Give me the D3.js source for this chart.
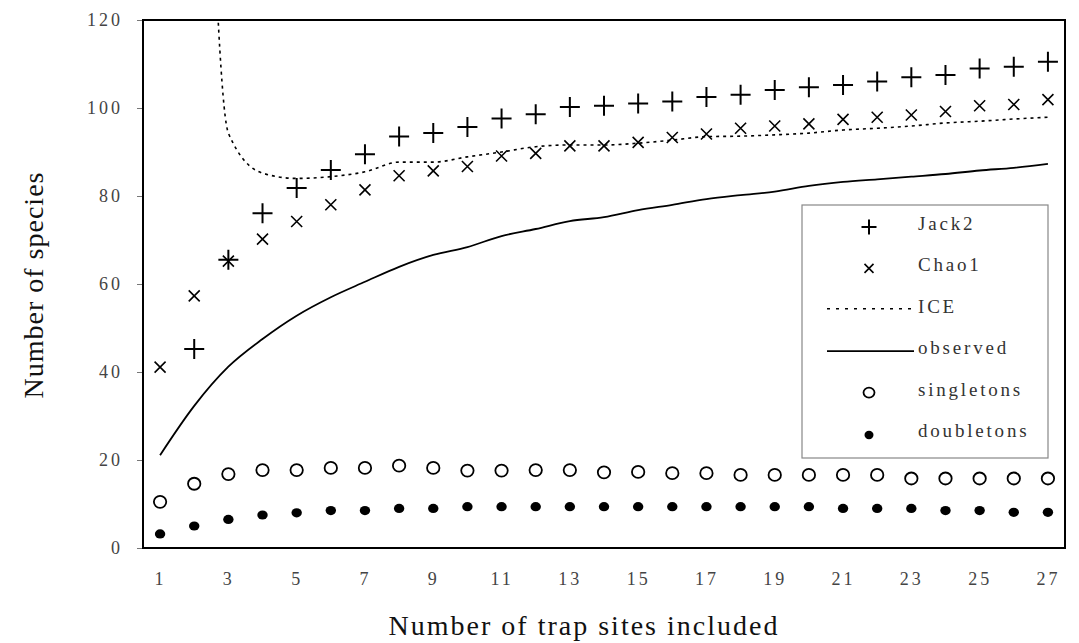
<!DOCTYPE html>
<html>
<head>
<meta charset="utf-8">
<script src="https://cdn.jsdelivr.net/npm/d3@7"></script>
<style>
  body { margin: 0; background: #fff; }
  text { font-family: "Liberation Serif", "Times New Roman", serif; }
</style>
</head>
<body>
<div id="chart"></div>
<script>
// data
const sites = d3.range(1, 28);
const jack2 = [null, 45.2, 65.5, 76.1, 81.8, 85.9, 89.5, 93.5, 94.3, 95.7, 97.6, 98.6, 100.2, 100.5,
  101.0, 101.5, 102.5, 103.0, 104.1, 104.7, 105.2, 106.0, 107.0, 107.5, 109.0, 109.4, 110.5];
const chao1 = [41.1, 57.3, 65.2, 70.2, 74.2, 78.0, 81.4, 84.6, 85.7, 86.7, 89.1, 89.7, 91.4, 91.4,
  92.2, 93.3, 94.1, 95.4, 95.9, 96.4, 97.4, 97.9, 98.4, 99.2, 100.5, 100.8, 101.9];
const ice = [null, 280, 94.3, 85.2, 84.0, 84.4, 85.5, 87.7, 87.7, 88.9, 90.0, 91.2, 91.6, 91.6,
  92.0, 92.7, 93.5, 93.6, 93.9, 94.3, 95.0, 95.4, 95.9, 96.6, 97.0, 97.5, 97.9];
const observed = [21.1, 32.3, 41.2, 47.5, 52.8, 57.0, 60.5, 63.9, 66.6, 68.4, 70.9, 72.5, 74.3, 75.2,
  76.8, 78.0, 79.3, 80.2, 81.0, 82.3, 83.2, 83.8, 84.4, 85.0, 85.8, 86.4, 87.3];
const singletons = [10.5, 14.6, 16.8, 17.7, 17.7, 18.2, 18.2, 18.7, 18.2, 17.6, 17.6, 17.7, 17.7, 17.2,
  17.3, 17.0, 17.0, 16.6, 16.6, 16.6, 16.6, 16.6, 15.8, 15.8, 15.8, 15.8, 15.8];
const doubletons = [3.2, 5.0, 6.5, 7.5, 8.0, 8.5, 8.5, 9.0, 9.0, 9.4, 9.4, 9.4, 9.4, 9.4,
  9.4, 9.4, 9.4, 9.4, 9.4, 9.4, 9.0, 9.0, 9.0, 8.5, 8.5, 8.1, 8.1];
const xTicks = d3.range(1, 28, 2);
const yTicks = [0, 20, 40, 60, 80, 100, 120];
const legendItems = ['Jack2', 'Chao1', 'ICE', 'observed', 'singletons', 'doubletons'];

// config
const width = 1079, height = 643;
const margin = { left: 143, top: 20, right: 14, bottom: 95 };
const innerW = width - margin.left - margin.right;
const innerH = height - margin.top - margin.bottom;

const x = d3.scaleLinear().domain([0.5, 27.5]).range([margin.left, margin.left + innerW]);
const y = d3.scaleLinear().domain([0, 120]).range([margin.top + innerH, margin.top]);

const svg = d3.select('#chart')
  .append('svg')
  .attr('width', width)
  .attr('height', height);

svg.append('clipPath')
  .attr('id', 'plot-clip')
  .append('rect')
  .attr('x', margin.left)
  .attr('y', margin.top)
  .attr('width', innerW)
  .attr('height', innerH);

const pairs = (arr) => sites.map((s, i) => [s, arr[i]]).filter(d => d[1] != null);
const smooth = d3.line().x(d => x(d[0])).y(d => y(d[1])).curve(d3.curveMonotoneX);

// marker helpers
const plusPath = (cx, cy, r) => `M${cx - r},${cy}H${cx + r}M${cx},${cy - r}V${cy + r}`;
const crossPath = (cx, cy, r) => `M${cx - r},${cy - r}L${cx + r},${cy + r}M${cx - r},${cy + r}L${cx + r},${cy - r}`;

// y axis
const yAxis = svg.append('g')
  .attr('transform', `translate(${margin.left},0)`)
  .call(d3.axisLeft(y).tickValues(yTicks).tickSize(6).tickPadding(14));
yAxis.select('.domain').remove();
yAxis.selectAll('line').attr('stroke', '#777');
yAxis.selectAll('text')
  .attr('fill', '#444')
  .style('font-size', '18px')
  .style('letter-spacing', '3px');

// x axis
const xAxis = svg.append('g')
  .attr('transform', `translate(0,${margin.top + innerH})`)
  .call(d3.axisBottom(x).tickValues(xTicks).tickSize(0).tickPadding(24));
xAxis.select('.domain').remove();
xAxis.selectAll('text')
  .attr('fill', '#444')
  .style('font-size', '18px')
  .style('letter-spacing', '3px');

// frame
svg.append('rect')
  .attr('x', margin.left)
  .attr('y', margin.top)
  .attr('width', innerW)
  .attr('height', innerH)
  .attr('fill', 'none')
  .attr('stroke', '#000')
  .attr('stroke-width', 2);

const plot = svg.append('g').attr('clip-path', 'url(#plot-clip)');

// ICE
plot.append('path')
  .datum(pairs(ice))
  .attr('fill', 'none')
  .attr('stroke', '#000')
  .attr('stroke-width', 1.6)
  .attr('stroke-dasharray', '3,4')
  .attr('d', smooth);

// observed
plot.append('path')
  .datum(pairs(observed))
  .attr('fill', 'none')
  .attr('stroke', '#000')
  .attr('stroke-width', 1.8)
  .attr('d', smooth);

// Jack2
plot.append('g').selectAll('path')
  .data(pairs(jack2))
  .enter()
  .append('path')
  .attr('d', d => plusPath(x(d[0]), y(d[1]), 10))
  .attr('stroke', '#000')
  .attr('stroke-width', 2);

// Chao1
plot.append('g').selectAll('path')
  .data(pairs(chao1))
  .enter()
  .append('path')
  .attr('d', d => crossPath(x(d[0]), y(d[1]), 5.5))
  .attr('stroke', '#000')
  .attr('stroke-width', 1.6);

// singletons
plot.append('g').selectAll('ellipse')
  .data(pairs(singletons))
  .enter()
  .append('ellipse')
  .attr('cx', d => x(d[0]))
  .attr('cy', d => y(d[1]))
  .attr('rx', 6.2)
  .attr('ry', 6)
  .attr('fill', 'none')
  .attr('stroke', '#000')
  .attr('stroke-width', 1.8);

// doubletons
plot.append('g').selectAll('ellipse')
  .data(pairs(doubletons))
  .enter()
  .append('ellipse')
  .attr('cx', d => x(d[0]))
  .attr('cy', d => y(d[1]))
  .attr('rx', 5.2)
  .attr('ry', 4.6)
  .attr('fill', '#000');

// legend
const lg = { x: 802, y: 205, w: 246, h: 253, rowY: 230, step: 41.4, markX: 869, textX: 918 };
svg.append('rect')
  .attr('x', lg.x)
  .attr('y', lg.y)
  .attr('width', lg.w)
  .attr('height', lg.h)
  .attr('fill', '#fff')
  .attr('stroke', '#888')
  .attr('stroke-width', 1.2);

// rows are placed on the text baseline
const rows = svg.append('g').selectAll('g')
  .data(legendItems)
  .enter()
  .append('g')
  .attr('transform', (d, i) => `translate(0,${lg.rowY + i * lg.step})`);

rows.append('text')
  .attr('x', lg.textX)
  .attr('y', 0)
  .attr('fill', '#333')
  .style('font-size', '19px')
  .style('letter-spacing', '2.8px')
  .text(d => d);

rows.each(function (d) {
  const row = d3.select(this);
  if (d === 'Jack2') {
    row.append('path').attr('d', plusPath(lg.markX, -3, 7.5)).attr('stroke', '#000').attr('stroke-width', 2);
  } else if (d === 'Chao1') {
    row.append('path').attr('d', crossPath(lg.markX, -3, 4.5)).attr('stroke', '#000').attr('stroke-width', 1.6);
  } else if (d === 'ICE') {
    row.append('line').attr('x1', 827).attr('x2', 914).attr('y1', -4).attr('y2', -4)
      .attr('stroke', '#000').attr('stroke-width', 1.5).attr('stroke-dasharray', '3,6');
  } else if (d === 'observed') {
    row.append('line').attr('x1', 827).attr('x2', 914).attr('y1', -3).attr('y2', -3)
      .attr('stroke', '#000').attr('stroke-width', 1.8);
  } else if (d === 'singletons') {
    row.append('ellipse').attr('cx', lg.markX).attr('cy', -3).attr('rx', 5.5).attr('ry', 5)
      .attr('fill', 'none').attr('stroke', '#000').attr('stroke-width', 1.8);
  } else {
    row.append('ellipse').attr('cx', lg.markX).attr('cy', -2).attr('rx', 4.5).attr('ry', 4.2).attr('fill', '#000');
  }
});

// axis titles
svg.append('text')
  .attr('transform', `translate(43,285) rotate(-90)`)
  .attr('text-anchor', 'middle')
  .attr('fill', '#111')
  .style('font-size', '28px')
  .style('letter-spacing', '1px')
  .text('Number of species');

svg.append('text')
  .attr('x', 584)
  .attr('y', 635)
  .attr('text-anchor', 'middle')
  .attr('fill', '#111')
  .style('font-size', '28px')
  .style('letter-spacing', '2px')
  .text('Number of trap sites included');
</script>
</body>
</html>
